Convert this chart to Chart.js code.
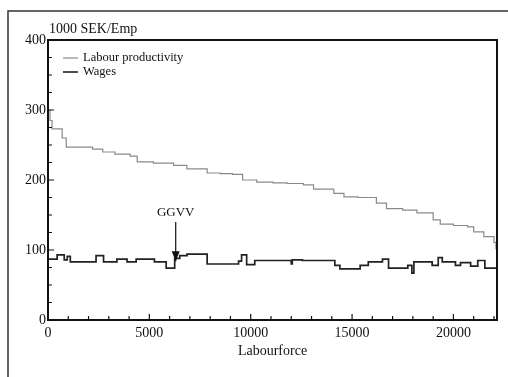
<!DOCTYPE html>
<html>
<head>
<meta charset="utf-8">
<script src="https://cdn.jsdelivr.net/npm/chart.js@4"></script>
<style>
  html, body { margin: 0; padding: 0; background: #fff; }
  #wrap { width: 508px; height: 377px; }
</style>
</head>
<body>
<div id="wrap"><canvas id="chart"></canvas></div>
<script>
// Step series: each point is the start of a step (x = labourforce, y = 1000 SEK/Emp)
const productivityX = [0, 100, 200, 700, 900, 2200, 2700, 3300, 4050, 4400, 5200, 6200, 6850, 7850, 8500, 9100, 9600, 10300, 11100, 11800, 12600, 13100, 14100, 14600, 15300, 16200, 16700, 17500, 18200, 19000, 19350, 20000, 20700, 21000, 21500, 22000, 22100, 22150];
const productivityY = [300, 285, 273, 260, 247, 244, 240, 237, 234, 226, 224, 221, 216, 210, 209, 208, 200, 197, 196, 195, 193, 187, 181, 176, 175, 167, 159, 157, 153, 143, 137, 135, 133, 126, 119, 111, 102, 102];

const wagesX = [0, 450, 800, 950, 1100, 2370, 2740, 3400, 3900, 4350, 5250, 5830, 6250, 6500, 6860, 7850, 9400, 9550, 9800, 10200, 12000, 12050, 12550, 14150, 14400, 15400, 15800, 16500, 16800, 17750, 17950, 18050, 18950, 19250, 19450, 20100, 20350, 20850, 21200, 21550, 22150];
const wagesY = [87, 93, 86, 91, 83, 92, 83, 87, 83, 87, 83, 74, 88, 92, 94, 80, 84, 93, 79, 85, 80, 86, 85, 78, 73, 78, 83, 87, 74, 78, 67, 83, 78, 89, 83, 78, 82, 77, 85, 74, 74];

const yTicks = [0, 100, 200, 300, 400];
const xTicks = [0, 5000, 10000, 15000, 20000];

const serif = "'Liberation Serif', 'DejaVu Serif', serif";

const toPoints = (xs, ys) => xs.map((x, i) => ({ x, y: ys[i] }));

// frame, inward ticks, legend, arrow annotation
const decorations = {
  id: "decorations",
  afterDraw(chart) {
    const { ctx, chartArea: area, scales } = chart;
    const { x, y } = scales;
    ctx.save();

    // outer frame of the figure
    ctx.strokeStyle = "#333";
    ctx.lineWidth = 1.5;
    ctx.beginPath();
    ctx.moveTo(8, 377);
    ctx.lineTo(8, 11);
    ctx.lineTo(508, 11);
    ctx.stroke();

    // plot box
    ctx.strokeStyle = "#111";
    ctx.lineWidth = 2;
    ctx.strokeRect(area.left, area.top, area.right - area.left, area.bottom - area.top);

    // inward ticks
    ctx.lineWidth = 1.2;
    ctx.beginPath();
    for (let v = 0; v <= 22000; v += 1000) {
      const px = x.getPixelForValue(v);
      ctx.moveTo(px, area.bottom);
      ctx.lineTo(px, area.bottom - (v % 5000 === 0 ? 6 : 4));
    }
    for (let v = 0; v <= 400; v += 25) {
      const py = y.getPixelForValue(v);
      ctx.moveTo(area.left, py);
      ctx.lineTo(area.left + (v % 100 === 0 ? 6 : 4), py);
    }
    ctx.stroke();

    // y unit label
    ctx.fillStyle = "#111";
    ctx.font = `14px ${serif}`;
    ctx.textBaseline = "alphabetic";
    ctx.textAlign = "left";
    ctx.fillText("1000 SEK/Emp", 49, 33);

    // legend
    const legend = [
      { label: "Labour productivity", color: "#8a8a8a", width: 1.2, yPos: 58 },
      { label: "Wages", color: "#222", width: 1.6, yPos: 72 },
    ];
    ctx.font = `12.5px ${serif}`;
    ctx.textBaseline = "middle";
    for (const item of legend) {
      ctx.strokeStyle = item.color;
      ctx.lineWidth = item.width;
      ctx.beginPath();
      ctx.moveTo(63, item.yPos);
      ctx.lineTo(78, item.yPos);
      ctx.stroke();
      ctx.fillStyle = "#111";
      ctx.fillText(item.label, 83, item.yPos);
    }

    // GGVV arrow
    const ax = x.getPixelForValue(6300);
    const top = y.getPixelForValue(140);
    const tip = y.getPixelForValue(84);
    ctx.font = `13px ${serif}`;
    ctx.textAlign = "center";
    ctx.textBaseline = "alphabetic";
    ctx.fillText("GGVV", ax, top - 6);
    ctx.strokeStyle = "#111";
    ctx.lineWidth = 1.2;
    ctx.beginPath();
    ctx.moveTo(ax, top);
    ctx.lineTo(ax, tip);
    ctx.stroke();
    ctx.beginPath();
    ctx.moveTo(ax, tip);
    ctx.lineTo(ax - 4, tip - 10);
    ctx.lineTo(ax + 4, tip - 10);
    ctx.closePath();
    ctx.fill();

    ctx.restore();
  },
};

new Chart(document.querySelector("#chart"), {
  type: "line",
  data: {
    datasets: [
      {
        label: "Labour productivity",
        data: toPoints(productivityX, productivityY),
        borderColor: "#8a8a8a",
        borderWidth: 1.2,
        stepped: "before",
        pointRadius: 0,
      },
      {
        label: "Wages",
        data: toPoints(wagesX, wagesY),
        borderColor: "#222",
        borderWidth: 1.7,
        stepped: "before",
        pointRadius: 0,
      },
    ],
  },
  options: {
    responsive: true,
    maintainAspectRatio: false,
    animation: false,
    layout: { padding: { left: 0, top: 40, right: 11, bottom: 17 } },
    plugins: {
      legend: { display: false },
      tooltip: { enabled: false },
    },
    scales: {
      x: {
        type: "linear",
        min: 0,
        max: 22150,
        grid: { display: false, drawTicks: false },
        border: { display: false },
        afterBuildTicks: (scale) => {
          scale.ticks = xTicks.map((value) => ({ value }));
        },
        afterFit: (scale) => {
          scale.height = 40;
        },
        ticks: {
          color: "#111",
          padding: 5,
          maxRotation: 0,
          callback: (value) => String(value),
          font: { family: serif, size: 14 },
        },
        title: {
          display: true,
          text: "Labourforce",
          color: "#111",
          padding: 0,
          font: { family: serif, size: 14 },
        },
      },
      y: {
        min: 0,
        max: 400,
        grid: { display: false, drawTicks: false },
        border: { display: false },
        afterBuildTicks: (scale) => {
          scale.ticks = yTicks.map((value) => ({ value }));
        },
        afterFit: (scale) => {
          scale.width = 48;
        },
        ticks: {
          color: "#111",
          padding: 2,
          callback: (value) => String(value),
          font: { family: serif, size: 14 },
        },
      },
    },
  },
  plugins: [decorations],
});
</script>
</body>
</html>
